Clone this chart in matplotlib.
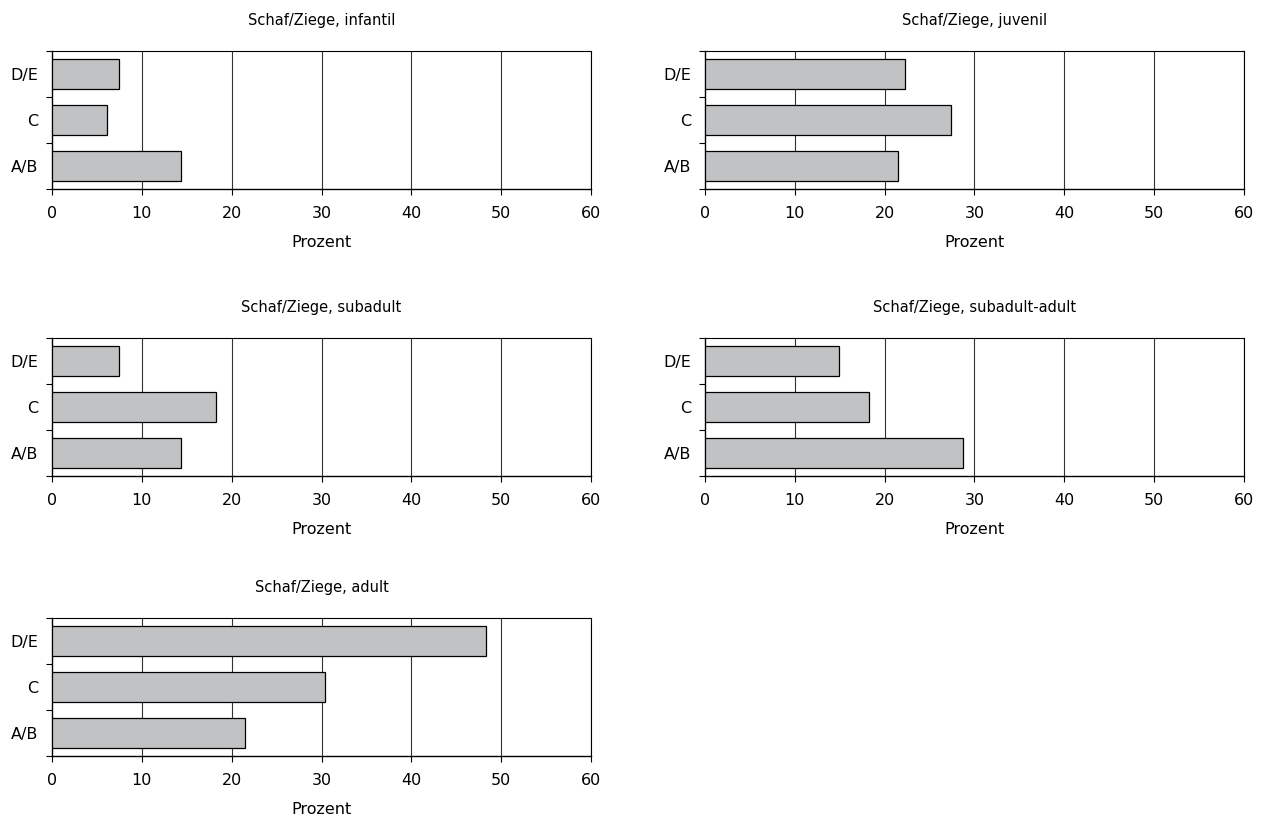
import matplotlib
matplotlib.use("Agg")
import matplotlib.pyplot as plt
from matplotlib.ticker import FixedLocator

categories = ["A/B", "C", "D/E"]
titles = ["Schaf/Ziege, infantil", "Schaf/Ziege, juvenil",
          "Schaf/Ziege, subadult", "Schaf/Ziege, subadult-adult",
          "Schaf/Ziege, adult"]
infantil = [14.4, 6.1, 7.5]
juvenil = [21.5, 27.4, 22.3]
subadult = [14.4, 18.3, 7.5]
subadult_adult = [28.7, 18.3, 14.9]
adult = [21.5, 30.4, 48.3]
series = [infantil, juvenil, subadult, subadult_adult, adult]
x_ticks = [0, 10, 20, 30, 40, 50, 60]

plt.rcParams["font.family"] = ["DejaVu Sans"]

fig = plt.figure(figsize=(12.72, 8.19), dpi=100)
W, H = 1272, 819
# (left px, top px) of each plot area
boxes = [(52, 51), (705, 51), (52, 338), (705, 338), (52, 618)]
aw, ah = 539, 138

for (lx, ty), title, vals in zip(boxes, titles, series):
    ax = fig.add_axes([lx / W, 1 - (ty + ah) / H, aw / W, ah / H])
    ax.barh(range(3), vals, height=0.64, color="#C0C2C4",
            edgecolor="black", linewidth=0.9, zorder=3)
    ax.set_xlim(0, 60)
    ax.set_ylim(-0.5, 2.5)
    ax.set_xticks(x_ticks)
    ax.set_yticks(range(3))
    ax.set_yticklabels(categories)
    ax.yaxis.set_minor_locator(FixedLocator([-0.5, 0.5, 1.5, 2.5]))
    ax.tick_params(axis="y", which="major", length=0, pad=10, labelsize=11.5)
    ax.tick_params(axis="y", which="minor", length=4, width=0.8)
    ax.tick_params(axis="x", length=4, width=0.8, pad=8, labelsize=11.5)
    for v in x_ticks[1:]:
        ax.axvline(v, color="#333333", linewidth=0.8, zorder=1)
    for s in ax.spines.values():
        s.set_linewidth(0.8)
    ax.spines["left"].set_linewidth(1.0)
    ax.spines["bottom"].set_linewidth(1.0)
    ax.set_title(title, fontsize=10.5, pad=19)
    ax.set_xlabel("Prozent", fontsize=11.5, labelpad=10)

fig.savefig("out.png", dpi=100)
